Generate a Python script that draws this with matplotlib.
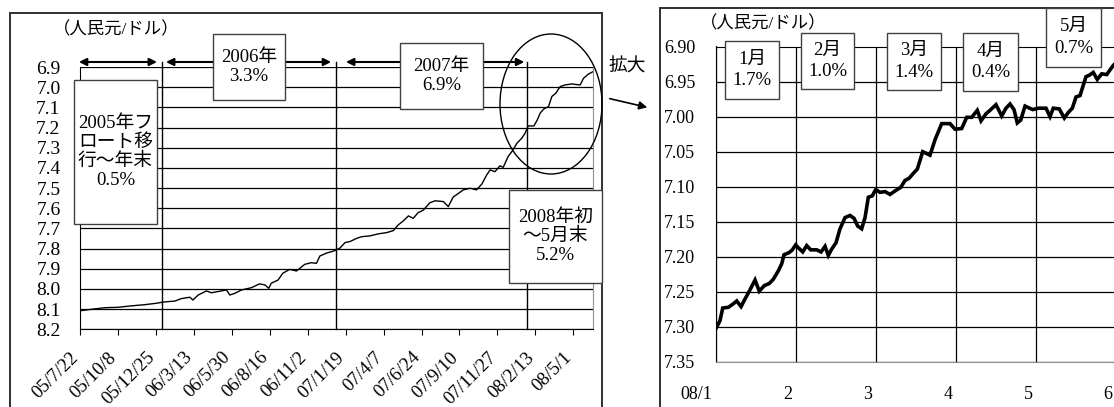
import numpy as np
import matplotlib
matplotlib.use("Agg")
import matplotlib.pyplot as plt
from matplotlib.patches import Rectangle, Ellipse, FancyArrowPatch
from matplotlib.transforms import ScaledTranslation, blended_transform_factory

plt.rcParams['font.family'] = ['Liberation Serif', 'Noto Sans CJK JP']
plt.rcParams['font.size'] = 13.5

# -----------------------------
#  Data
# -----------------------------
# left panel: days since 2005-07-22, CNY per USD
left_days = [0, 23, 51, 78, 105, 133, 157, 171, 195, 208, 226, 232, 243, 260,
             270, 290, 301, 308, 318, 332, 352, 369, 380, 388, 393, 407, 417,
             431, 445, 462, 475, 486, 493, 506, 524, 534, 545, 555, 569, 579,
             596, 613, 630, 644, 654, 665, 675, 685, 695, 706, 719, 730, 747,
             757, 767, 778, 788, 802, 815, 826, 836, 843, 853, 863, 870, 880,
             889, 898, 908, 915, 921, 933, 940, 946, 953, 963, 970, 978, 987,
             997, 1011, 1028, 1035, 1045, 1054]
left_rate = [8.108, 8.101, 8.093, 8.091, 8.084, 8.078, 8.071, 8.065, 8.060,
             8.048, 8.041, 8.055, 8.030, 8.010, 8.019, 8.010, 8.005, 8.030,
             8.022, 8.005, 7.994, 7.975, 7.980, 7.997, 7.972, 7.956, 7.922,
             7.903, 7.911, 7.878, 7.870, 7.873, 7.837, 7.823, 7.810, 7.798,
             7.770, 7.765, 7.749, 7.741, 7.737, 7.727, 7.721, 7.711, 7.683,
             7.662, 7.638, 7.650, 7.622, 7.609, 7.573, 7.563, 7.567, 7.592,
             7.545, 7.526, 7.509, 7.501, 7.509, 7.480, 7.435, 7.410, 7.419,
             7.390, 7.397, 7.344, 7.315, 7.278, 7.253, 7.228, 7.192, 7.192,
             7.162, 7.128, 7.109, 7.096, 7.046, 7.030, 6.997, 6.989, 6.984,
             6.989, 6.956, 6.935, 6.924]
left_tick_days = [0, 78, 156, 234, 312, 390, 468, 546, 624, 702, 780, 858, 936, 1014]
left_tick_labels = ["05/7/22", "05/10/8", "05/12/25", "06/3/13", "06/5/30",
                    "06/8/16", "06/11/2", "07/1/19", "07/4/7", "07/6/24",
                    "07/9/10", "07/11/27", "08/2/13", "08/5/1"]
year_marks = [169, 526, 919]
year_spans = [(-8, 164), (171, 522), (541, 919)]

# right panel: month position (1 = start of Jan 2008), CNY per USD
right_month = [1.000, 1.050, 1.084, 1.154, 1.216, 1.259, 1.313, 1.363, 1.416,
               1.488, 1.541, 1.604, 1.666, 1.716, 1.779, 1.821, 1.850, 1.913,
               1.954, 1.996, 2.029, 2.084, 2.134, 2.184, 2.259, 2.313, 2.363,
               2.404, 2.446, 2.500, 2.550, 2.613, 2.675, 2.725, 2.771, 2.821,
               2.863, 2.904, 2.954, 2.996, 3.050, 3.113, 3.175, 3.238, 3.309,
               3.363, 3.413, 3.466, 3.516, 3.584, 3.675, 3.738, 3.821, 3.925,
               3.988, 4.071, 4.134, 4.196, 4.266, 4.313, 4.375, 4.425, 4.500,
               4.571, 4.625, 4.675, 4.725, 4.766, 4.809, 4.863, 4.959, 5.029,
               5.125, 5.175, 5.216, 5.291, 5.354, 5.404, 5.454, 5.500, 5.550,
               5.625, 5.666, 5.716, 5.766, 5.821, 5.884, 5.959, 5.975]
right_rate = [7.302, 7.291, 7.273, 7.272, 7.267, 7.263, 7.271, 7.260, 7.249,
              7.233, 7.249, 7.241, 7.238, 7.232, 7.220, 7.210, 7.197, 7.194,
              7.190, 7.183, 7.187, 7.193, 7.184, 7.190, 7.190, 7.193, 7.185,
              7.198, 7.189, 7.180, 7.160, 7.144, 7.141, 7.145, 7.156, 7.160,
              7.144, 7.115, 7.113, 7.104, 7.108, 7.107, 7.111, 7.106, 7.101,
              7.091, 7.088, 7.081, 7.075, 7.050, 7.055, 7.033, 7.010, 7.010,
              7.018, 7.017, 7.001, 7.001, 6.991, 7.006, 6.996, 6.991, 6.983,
              6.999, 6.988, 6.982, 6.990, 7.009, 7.005, 6.985, 6.990, 6.988,
              6.988, 7.000, 6.988, 6.989, 7.002, 6.994, 6.988, 6.972, 6.970,
              6.943, 6.941, 6.937, 6.947, 6.939, 6.940, 6.928, 6.926]
right_ticks = [1, 2, 3, 4, 5, 6]
right_tick_labels = ["08/1", "2", "3", "4", "5", "6"]

# -----------------------------
#  Layout helpers (pixels)
# -----------------------------
W, H = 1114, 407
fig = plt.figure(figsize=(W / 100, H / 100), dpi=100)


def fx(x):
    return x / W


def fy(y):
    return 1 - y / H


def box(x0, y0, x1, y1, text, spacing=1.12):
    fig.add_artist(Rectangle((fx(x0), fy(y1)), fx(x1) - fx(x0), fy(y0) - fy(y1),
                             transform=fig.transFigure, facecolor='white',
                             edgecolor='#404040', lw=1.0, zorder=5))
    fig.text(fx((x0 + x1) / 2), fy((y0 + y1) / 2), text, ha='center', va='center',
             linespacing=spacing, zorder=6)


# outer frames
fig.add_artist(Rectangle((fx(10), fy(430)), fx(602) - fx(10), fy(13) - fy(430),
                         transform=fig.transFigure, fill=False,
                         edgecolor='#303030', lw=1.4, zorder=1))
fig.add_artist(Rectangle((fx(660), fy(430)), fx(1130) - fx(660), fy(8) - fy(430),
                         transform=fig.transFigure, fill=False,
                         edgecolor='#303030', lw=1.4, zorder=1))

# -----------------------------
#  Left panel
# -----------------------------
ax1 = fig.add_axes([fx(80), fy(329.3), fx(593) - fx(80), fy(67) - fy(329.3)])
ax1.plot(left_days, left_rate, color='black', lw=1.0)
ax1.set_xlim(0, 1054.5)
ax1.set_ylim(8.2, 6.9)
yt = np.round(np.arange(6.9, 8.21, 0.1), 1)
ax1.set_yticks(yt)
ax1.set_yticklabels([f"{v:.1f}" for v in yt], fontsize=14)
ax1.yaxis.grid(True, color='black', lw=0.9)
ax1.tick_params(axis='y', length=0, pad=14)
ax1.set_xticks(left_tick_days)
ax1.set_xticklabels(left_tick_labels, rotation=45, ha='right', va='top',
                    rotation_mode='anchor', fontsize=13.5)
ax1.tick_params(axis='x', direction='out', length=4, pad=10, color='black')
for lbl in ax1.get_xticklabels():
    lbl.set_transform(lbl.get_transform() + ScaledTranslation(-0.10, 0, fig.dpi_scale_trans))
ax1.spines['top'].set_visible(False)
ax1.spines['right'].set_color('#909090')
for s in ['left', 'bottom']:
    ax1.spines[s].set_color('black')

bt = blended_transform_factory(ax1.transData, ax1.transAxes)
top_frac = (329.3 - 62) / (329.3 - 67)
for d in year_marks:
    ax1.plot([d, d], [0, top_frac], transform=bt, color='black', lw=1.0, clip_on=False)
for a, b in year_spans:
    ax1.add_patch(FancyArrowPatch((a, top_frac), (b, top_frac), transform=bt,
                                  arrowstyle='<|-|>', mutation_scale=11,
                                  color='black', lw=1.5, clip_on=False))

fig.text(fx(53), fy(30), "（人民元/ドル）", ha='left', va='center', fontsize=12.5)

box(74, 80, 157, 224, "2005年フ\nロート移\n行～年末\n0.5%")
box(213, 34, 285, 100, "2006年\n3.3%")
box(400, 43, 483, 109, "2007年\n6.9%")
box(509, 190, 602, 283, "2008年初\n～5月末\n5.2%")

fig.add_artist(Ellipse((fx(551), fy(104)), fx(102), 140 / H, transform=fig.transFigure,
                       fill=False, edgecolor='black', lw=1.0, zorder=4))
fig.text(fx(609), fy(67), "拡大", ha='left', va='center')
fig.add_artist(FancyArrowPatch((fx(607), fy(98)), (fx(650), fy(108)),
                               transform=fig.transFigure, arrowstyle='-|>',
                               mutation_scale=12, color='black', lw=1.2))

# -----------------------------
#  Right panel (zoom on 2008)
# -----------------------------
ax2 = fig.add_axes([fx(716), fy(362), fx(1116) - fx(716), fy(46.5) - fy(362)])
ax2.plot(right_month, right_rate, color='black', lw=2.6, solid_joinstyle='miter')
ax2.set_xlim(1, 6)
ax2.set_ylim(7.35, 6.90)
yt2 = np.round(np.arange(6.90, 7.351, 0.05), 2)
ax2.set_yticks(yt2)
ax2.set_yticklabels([f"{v:.2f}" for v in yt2], fontsize=13)
ax2.set_xticks(right_ticks)
ax2.set_xticklabels(right_tick_labels, fontsize=13)
ax2.grid(True, color='black', lw=0.9)
ax2.tick_params(axis='y', length=0, pad=15)
ax2.tick_params(axis='x', length=0, pad=17)
for i, lbl in enumerate(ax2.get_xticklabels()):
    off = -0.04 if i == 0 else -0.08
    lbl.set_transform(lbl.get_transform() + ScaledTranslation(off, 0, fig.dpi_scale_trans))
    if i == 0:
        lbl.set_ha('right')
ax2.spines['right'].set_visible(False)
ax2.spines['bottom'].set_color('#909090')
ax2.spines['left'].set_color('black')
ax2.spines['top'].set_color('black')

fig.text(fx(700), fy(24), "（人民元/ドル）", ha='left', va='center', fontsize=12.5)
box(725, 41, 779, 99, "1月\n1.7%", spacing=1.35)
box(801, 33, 854, 89, "2月\n1.0%", spacing=1.35)
box(887, 33, 941, 90, "3月\n1.4%", spacing=1.35)
box(963, 33, 1018, 91, "4月\n0.4%", spacing=1.35)
box(1046, 8, 1101, 67, "5月\n0.7%", spacing=1.35)

fig.savefig("out.png", dpi=100)
